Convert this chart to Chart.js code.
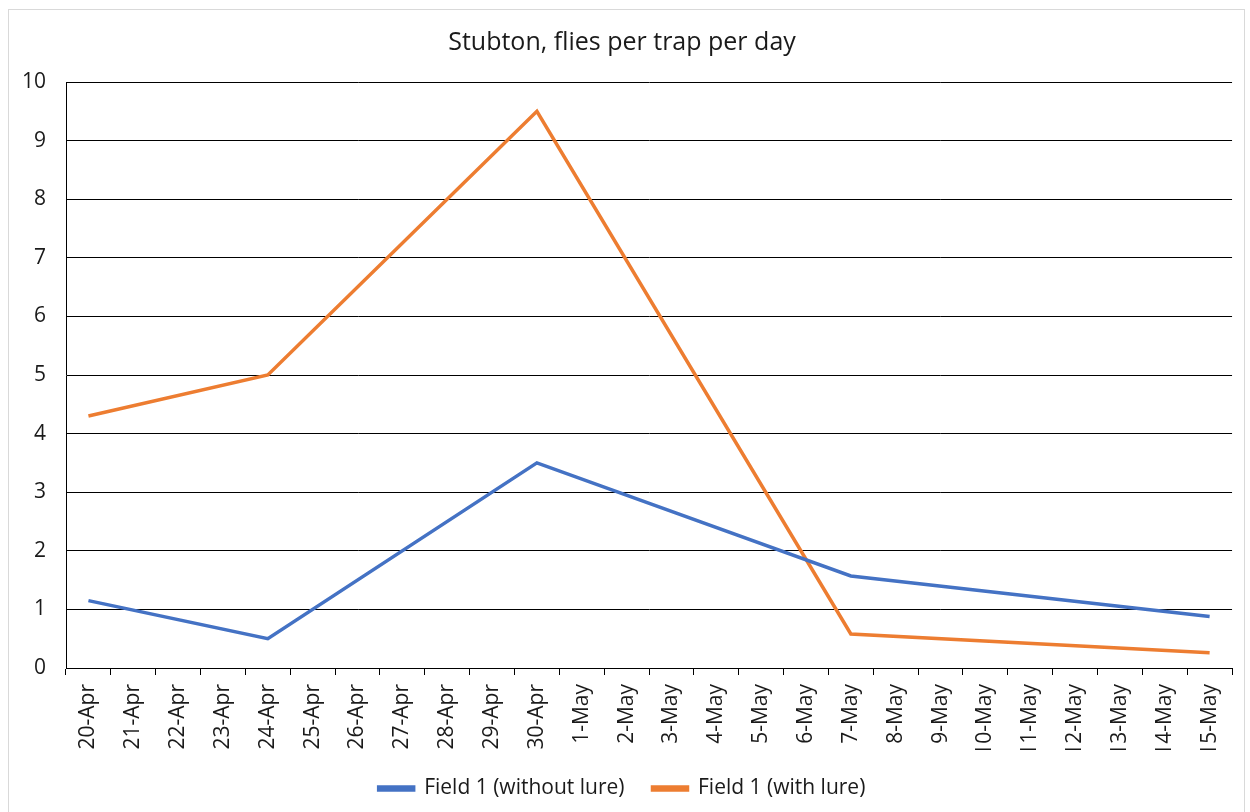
<!DOCTYPE html>
<html>
<head>
<meta charset="utf-8">
<script src="https://cdn.jsdelivr.net/npm/chart.js@4"></script>
<style>
  body { margin: 0; background: #fff; }
  #frame {
    position: absolute; left: 8px; top: 9px;
    width: 1237px; height: 810px;
    border: 1px solid #d9d9d9; box-sizing: border-box;
  }
  #chartBox { position: absolute; left: 0; top: 0; width: 1235px; height: 803px; }
</style>
</head>
<body>
<div id="frame"><div id="chartBox"><canvas id="flyChart"></canvas></div></div>
<script>
  // x axis categories (every day)
  const days = ['20-Apr', '21-Apr', '22-Apr', '23-Apr', '24-Apr', '25-Apr', '26-Apr', '27-Apr',
    '28-Apr', '29-Apr', '30-Apr', '1-May', '2-May', '3-May', '4-May', '5-May', '6-May',
    '7-May', '8-May', '9-May', '10-May', '11-May', '12-May', '13-May', '14-May', '15-May'];

  // days on which traps were read
  const sampleDays = ['20-Apr', '24-Apr', '30-Apr', '7-May', '15-May'];
  const withoutLure = [1.15, 0.5, 3.5, 1.57, 0.88];
  const withLure = [4.3, 5.0, 9.5, 0.58, 0.26];

  const yTicks = [0, 1, 2, 3, 4, 5, 6, 7, 8, 9, 10];

  function spread(values) {
    return days.map(d => {
      const i = sampleDays.indexOf(d);
      return i >= 0 ? values[i] : null;
    });
  }

  const font = '"Open Sans", sans-serif';
  const textColor = '#1a1a1a';

  new Chart(document.getElementById('flyChart'), {
    type: 'line',
    data: {
      labels: days,
      datasets: [{
        label: 'Field 1 (without lure)',
        data: spread(withoutLure),
        borderColor: '#4472C4',
        backgroundColor: '#4472C4',
        borderWidth: 3.5,
        pointRadius: 0,
        spanGaps: true,
        tension: 0
      }, {
        label: 'Field 1 (with lure)',
        data: spread(withLure),
        borderColor: '#ED7D31',
        backgroundColor: '#ED7D31',
        borderWidth: 3.5,
        pointRadius: 0,
        spanGaps: true,
        tension: 0
      }]
    },
    options: {
      responsive: true,
      maintainAspectRatio: false,
      animation: false,
      layout: { padding: { left: 0, right: 9, top: 8, bottom: 4 } },
      plugins: {
        title: {
          display: true,
          text: 'Stubton, flies per trap per day',
          color: textColor,
          font: { family: font, size: 25, weight: 'normal' },
          padding: { top: 10, bottom: 24 }
        },
        legend: {
          position: 'bottom',
          labels: {
            color: textColor,
            font: { family: font, size: 21 },
            boxWidth: 35,
            boxHeight: 3,
            padding: 28
          }
        },
        tooltip: { enabled: false }
      },
      scales: {
        x: {
          offset: true,
          afterFit: axis => { axis.height = 82; },
          grid: {
            offset: true,
            drawOnChartArea: false,
            drawTicks: true,
            tickLength: 7,
            color: '#000'
          },
          border: { color: '#000', width: 1 },
          ticks: {
            color: textColor,
            font: { family: font, size: 21 },
            maxRotation: 90,
            minRotation: 90,
            autoSkip: false,
            padding: 9
          }
        },
        y: {
          min: 0,
          max: 10,
          afterBuildTicks: axis => { axis.ticks = yTicks.map(v => ({ value: v })); },
          afterFit: axis => { axis.width = 57; },
          grid: { color: '#000', drawTicks: false },
          border: { color: '#000', width: 1 },
          ticks: {
            color: textColor,
            font: { family: font, size: 21 },
            padding: 20
          }
        }
      }
    }
  });
</script>
</body>
</html>
